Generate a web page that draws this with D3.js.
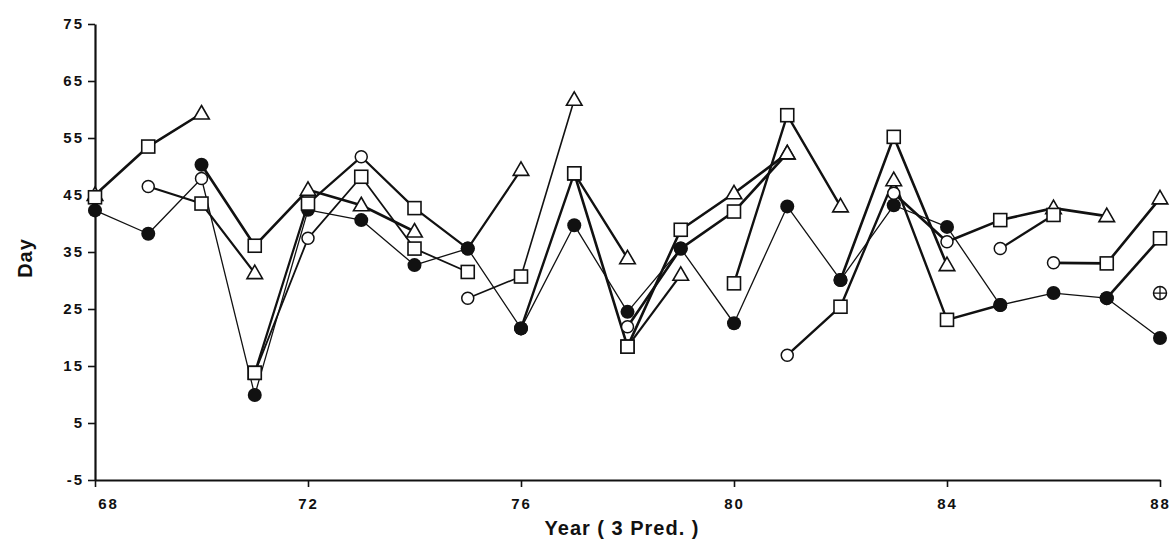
<!DOCTYPE html>
<html>
<head>
<meta charset="utf-8">
<script src="https://cdn.jsdelivr.net/npm/d3@7"></script>
<style>
  html, body { margin: 0; padding: 0; background: #fff; }
  svg { display: block; }
</style>
</head>
<body>
<svg id="chart"></svg>
<script>
// tick values
var xTicks = [68, 72, 76, 80, 84, 88];
var yTicks = [-5, 5, 15, 25, 35, 45, 55, 65, 75];

// each line: [year, day, marker]  T = open triangle, S = open square, F = filled circle, O = open circle, X = crossed circle
var lineA = [[68, 45.0, "T"], [69, 53.5, "S"], [70, 59.3, "T"]];
var lineB = [[68, 42.3, "F"], [69, 38.2, "F"], [70, 47.9, "O"], [71, 9.9, "F"], [72, 42.4, "F"], [73, 40.6, "F"],
             [74, 32.7, "F"], [75, 35.6, "F"], [76, 21.6, "F"], [77, 39.7, "F"], [78, 24.5, "F"], [79, 35.6, "F"],
             [80, 22.5, "F"], [81, 43.0, "F"], [82, 30.1, "F"], [83, 43.2, "F"], [84, 39.4, "F"], [85, 25.7, "F"],
             [86, 27.8, "F"], [87, 26.9, "F"], [88, 19.9, "F"]];
var lineC = [[69, 46.5, "O"], [70, 43.5, "S"], [71, 31.3, "T"]];
var lineD = [[70, 50.3, "F"], [71, 36.1, "S"], [72, 45.9, "T"], [73, 43.2, "T"], [74, 38.6, "T"]];
var lineE = [[71, 13.8, "S"], [72, 43.5, "S"], [73, 51.7, "O"], [74, 42.7, "S"], [75, 35.6, "F"], [76, 49.4, "T"]];
var lineH = [[71, 13.8, "S"], [72, 37.4, "O"], [73, 48.2, "S"], [74, 35.6, "S"], [75, 31.5, "S"]];
var lineI = [[75, 26.9, "O"], [76, 30.7, "S"], [77, 61.7, "T"]];
var lineJ = [[76, 21.6, "F"], [77, 48.8, "S"], [78, 33.9, "T"]];
var lineK = [[77, 48.8, "S"], [78, 18.4, "S"], [79, 38.9, "S"], [80, 45.3, "T"], [81, 52.3, "T"]];
var lineL = [[78, 21.9, "O"], [79, 35.6, "F"], [80, 42.1, "S"], [81, 52.3, "T"]];
var lineM = [[78, 18.4, "S"], [79, 31.0, "T"]];
var lineN = [[80, 29.5, "S"], [81, 59.0, "S"], [82, 43.0, "T"]];
var lineO = [[81, 16.9, "O"], [82, 25.4, "S"], [83, 47.6, "T"], [84, 23.1, "S"], [85, 25.7, "F"]];
var lineP = [[82, 30.1, "F"], [83, 55.2, "S"], [84, 32.7, "T"]];
var lineR = [[83, 45.3, "O"], [84, 36.8, "O"], [85, 40.6, "S"], [86, 42.7, "T"], [87, 41.3, "T"]];
var lineS = [[85, 35.6, "O"], [86, 41.5, "S"]];
var lineT = [[86, 33.1, "O"], [87, 33.0, "S"], [88, 44.4, "T"]];
var lineU = [[87, 26.9, "F"], [88, 37.4, "S"]];
var extraMarks = [[68, 44.6, "S"], [88, 27.8, "X"]];

var lines = [
    {pts: lineA, w: 2.6}, {pts: lineB, w: 1.3}, {pts: lineC, w: 2.2}, {pts: lineD, w: 2.6},
    {pts: lineE, w: 2.2}, {pts: lineH, w: 1.8}, {pts: lineI, w: 1.6}, {pts: lineJ, w: 2.4},
    {pts: lineK, w: 2.6}, {pts: lineL, w: 2.6}, {pts: lineM, w: 2.2}, {pts: lineN, w: 2.4},
    {pts: lineO, w: 2.4}, {pts: lineP, w: 2.6}, {pts: lineR, w: 2.6}, {pts: lineS, w: 2.2},
    {pts: lineT, w: 2.6}, {pts: lineU, w: 2.6}
];

var W = 1175, H = 543;
var svg = d3.select('#chart')
    .attr('width', W)
    .attr('height', H);

svg.append('rect').attr('width', W).attr('height', H).attr('fill', '#fff');

var x = d3.scaleLinear().domain([68, 88]).range([95, 1160]);
var y = d3.scaleLinear().domain([-5, 75]).range([480, 24]);

function styleTicks(g) {
    g.attr('font-family', '"Liberation Sans", Arial, sans-serif')
        .attr('font-size', 15)
        .attr('font-weight', 'bold');
    g.selectAll('.tick text').attr('letter-spacing', '2px').attr('fill', '#111');
    g.select('.domain').attr('stroke-width', 2.2).attr('stroke', '#111');
    g.selectAll('.tick line').attr('stroke-width', 1.6).attr('stroke', '#111');
}

// axes
var xAxis = svg.append('g')
    .attr('transform', 'translate(0,' + y(-5) + ')')
    .call(d3.axisBottom(x).tickValues(xTicks).tickSize(7).tickPadding(11).tickSizeOuter(0)
        .tickFormat(function(d) { return String(d); }))
    .call(styleTicks);
xAxis.selectAll('.tick text').filter(function(d) { return d === 68; }).attr('dx', 13);

var yAxis = svg.append('g')
    .attr('transform', 'translate(' + x(68) + ',0)')
    .call(d3.axisLeft(y).tickValues(yTicks).tickSize(7).tickPadding(4).tickSizeOuter(0)
        .tickFormat(function(d) { return String(d); }))
    .call(styleTicks);

svg.append('text')
    .text('Day')
    .attr('transform', 'translate(32,' + 258 + ')rotate(-90)')
    .attr('text-anchor', 'middle')
    .attr('font-family', '"Liberation Sans", Arial, sans-serif')
    .attr('font-weight', 'bold')
    .attr('font-size', '20px')
    .attr('letter-spacing', '1px')
    .attr('fill', '#111');

svg.append('text')
    .text('Year ( 3 Pred. )')
    .attr('x', 622)
    .attr('y', 535)
    .attr('text-anchor', 'middle')
    .attr('font-family', '"Liberation Sans", Arial, sans-serif')
    .attr('font-weight', 'bold')
    .attr('font-size', '20px')
    .attr('letter-spacing', '1px')
    .attr('fill', '#111');

var plot = svg.append('g');

var line = d3.line()
    .x(function(d) { return x(d[0]); })
    .y(function(d) { return y(d[1]); });

plot.selectAll('path.series')
    .data(lines)
    .enter().append('path')
    .attr('class', 'series')
    .attr('d', function(d) { return line(d.pts); })
    .attr('fill', 'none')
    .attr('stroke', '#111')
    .attr('stroke-width', function(d) { return d.w; })
    .attr('stroke-linejoin', 'round');

// markers
var marks = [];
lines.forEach(function(l) { l.pts.forEach(function(p) { marks.push(p); }); });
extraMarks.forEach(function(p) { marks.push(p); });

var tri = d3.symbol().type(d3.symbolTriangle).size(105);

var mk = plot.selectAll('g.mark')
    .data(marks)
    .enter().append('g')
    .attr('class', 'mark')
    .attr('transform', function(d) { return 'translate(' + x(d[0]) + ',' + y(d[1]) + ')'; });

mk.each(function(d) {
    var g = d3.select(this);
    if (d[2] === 'T') {
        g.append('path').attr('d', tri()).attr('transform', 'translate(0,1)')
            .attr('fill', '#fff').attr('stroke', '#111').attr('stroke-width', 1.6);
    } else if (d[2] === 'S') {
        g.append('rect').attr('x', -6.5).attr('y', -6.5).attr('width', 13).attr('height', 13)
            .attr('fill', '#fff').attr('stroke', '#111').attr('stroke-width', 1.6);
    } else if (d[2] === 'F') {
        g.append('circle').attr('r', 7).attr('fill', '#111');
    } else if (d[2] === 'O') {
        g.append('circle').attr('r', 6)
            .attr('fill', '#fff').attr('stroke', '#111').attr('stroke-width', 1.5);
    } else if (d[2] === 'X') {
        g.append('circle').attr('r', 6.5)
            .attr('fill', '#fff').attr('stroke', '#111').attr('stroke-width', 1.5);
        g.append('path').attr('d', 'M-6.5,0H6.5M0,-6.5V6.5')
            .attr('stroke', '#111').attr('stroke-width', 1.3);
    }
});
</script>
</body>
</html>
